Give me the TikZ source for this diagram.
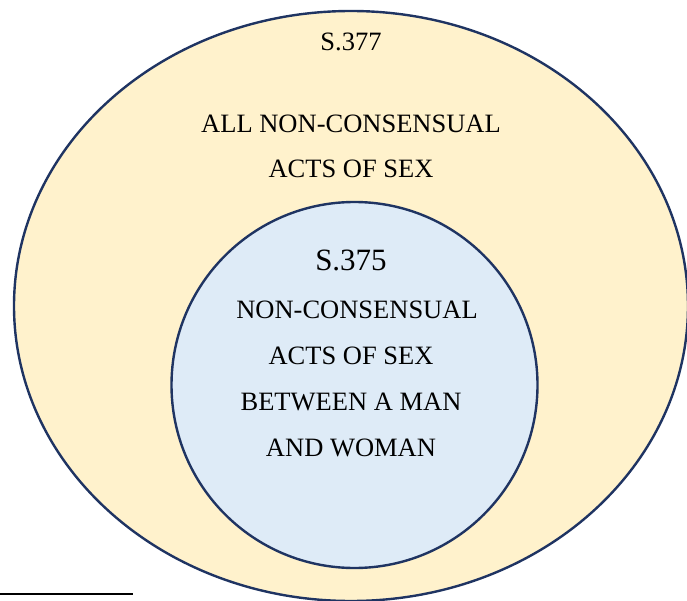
\documentclass[tikz,border=0pt]{standalone}
\usepackage{fontspec}
\setmainfont{Liberation Serif}
\definecolor{outerfill}{HTML}{FFF2CC}
\definecolor{innerfill}{HTML}{DEEBF7}
\definecolor{rim}{HTML}{1F3462}
\tikzset{
	rimline/.style={draw=rim, line width=2.4pt},
	label/.style={anchor=base, inner sep=0pt, font=\fontsize{26.5}{30}\selectfont},
	biglabel/.style={label, font=\fontsize{31}{34}\selectfont}
}

\begin{document}
\begin{tikzpicture}[x=1pt, y=-1pt]
	\useasboundingbox (0, 0) rectangle (687, 601);
	\coordinate (O) at (351, 306);
	\coordinate (I) at (354.5, 385);

	% insiemi
	\draw[rimline, fill=outerfill] (O) ellipse [x radius=337, y radius=295];
	\draw[rimline, fill=innerfill] (I) circle [radius=183];

	% testi esterni
	\node[label] (s377) at (351, 51) {S.377};
	\node[label] (all1) at (351, 133) {ALL NON-CONSENSUAL};
	\node[label] (all2) at (351, 178) {ACTS OF SEX};

	% testi interni
	\node[biglabel] (s375) at (351, 270) {S.375};
	\node[label] (mw1) at (357, 318) {NON-CONSENSUAL};
	\node[label] (mw2) at (351, 364) {ACTS OF SEX};
	\node[label] (mw3) at (351, 410) {BETWEEN A MAN};
	\node[label] (mw4) at (351, 456) {AND WOMAN};

	% filetto
	\coordinate (f1) at (0, 594);
	\coordinate (f2) at (133, 594);
	\draw[line width=1.6pt] (f1) -- (f2);
\end{tikzpicture}
\end{document}
